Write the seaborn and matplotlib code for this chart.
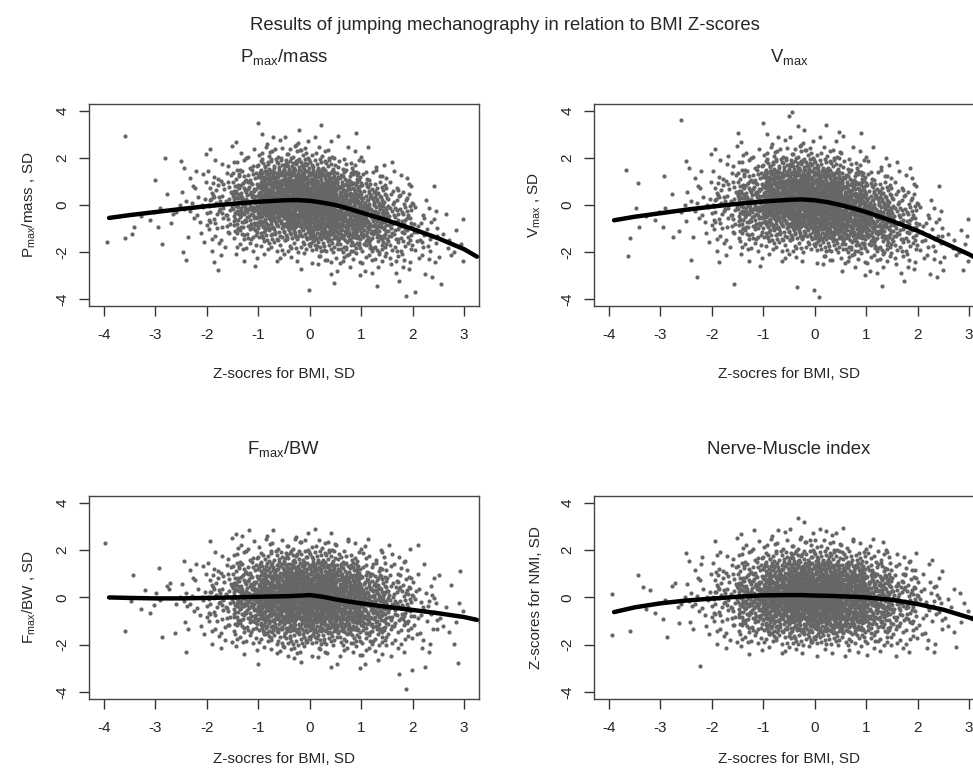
import numpy as np
import pandas as pd
import seaborn as sns
import matplotlib.pyplot as plt

# Grid of the point clouds: left edges of 0.5-wide BMI bins, lower edges of
# 0.5-high score bins (listed top to bottom). Counts are estimated from the picture.
x_edges = [-4.0, -3.5, -3.0, -2.5, -2.0, -1.5, -1.0, -0.5, 0.0, 0.5, 1.0, 1.5, 2.0, 2.5, 3.0]
y_edges = [3.5, 3.0, 2.5, 2.0, 1.5, 1.0, 0.5, 0.0, -0.5, -1.0, -1.5, -2.0, -2.5, -3.0, -3.5, -4.0, -4.5]

# one list per BMI bin, counts per score bin from top to bottom
pmax_counts = [
    [0, 0, 1, 0, 0, 0, 0, 0, 0, 0, 1, 1, 0, 0, 0, 0, 0],
    [0, 0, 0, 0, 0, 1, 0, 0, 2, 2, 1, 0, 0, 0, 0, 0, 0],
    [0, 0, 0, 1, 1, 0, 0, 2, 3, 2, 0, 1, 0, 0, 0, 0, 0],
    [0, 0, 0, 1, 1, 3, 4, 5, 4, 3, 2, 2, 1, 0, 0, 0, 0],
    [0, 0, 1, 1, 3, 6, 10, 13, 13, 10, 6, 3, 2, 1, 0, 0, 0],
    [0, 1, 1, 3, 8, 16, 25, 32, 32, 25, 16, 7, 3, 1, 0, 0, 0],
    [0, 1, 3, 9, 21, 39, 56, 63, 56, 39, 21, 9, 3, 0, 0, 0, 0],
    [0, 1, 4, 12, 28, 52, 75, 85, 75, 52, 28, 12, 4, 1, 0, 1, 0],
    [0, 1, 2, 7, 19, 39, 63, 80, 80, 63, 39, 19, 7, 2, 1, 0, 0],
    [0, 1, 1, 3, 9, 21, 39, 56, 63, 56, 39, 21, 9, 3, 0, 0, 0],
    [0, 0, 0, 1, 3, 9, 18, 30, 38, 38, 30, 18, 9, 3, 1, 0, 0],
    [0, 0, 0, 0, 1, 3, 7, 12, 17, 20, 17, 12, 7, 3, 1, 1, 0],
    [0, 0, 0, 0, 0, 0, 1, 2, 4, 7, 8, 7, 4, 1, 1, 1, 0],
    [0, 0, 0, 0, 0, 0, 0, 0, 1, 1, 3, 3, 3, 0, 1, 0, 0],
    [0, 0, 0, 0, 0, 0, 0, 0, 0, 0, 0, 0, 0, 0, 0, 0, 0],
]
vmax_counts = [
    [0, 0, 0, 0, 1, 0, 0, 0, 0, 0, 1, 0, 1, 0, 0, 0, 0],
    [0, 0, 0, 0, 0, 0, 1, 0, 3, 2, 0, 0, 0, 0, 0, 0, 0],
    [1, 0, 0, 0, 1, 1, 0, 2, 2, 1, 2, 0, 0, 0, 0, 0, 0],
    [0, 0, 0, 1, 1, 2, 4, 5, 4, 4, 2, 1, 1, 0, 1, 0, 0],
    [0, 0, 1, 2, 3, 6, 10, 13, 12, 10, 6, 3, 2, 0, 1, 0, 0],
    [0, 2, 1, 4, 8, 16, 25, 32, 31, 24, 15, 8, 3, 1, 0, 0, 0],
    [1, 1, 3, 9, 21, 39, 56, 63, 56, 38, 21, 9, 3, 0, 0, 0, 0],
    [1, 2, 4, 12, 28, 52, 75, 85, 75, 51, 28, 12, 3, 0, 1, 1, 0],
    [0, 2, 2, 8, 20, 40, 64, 80, 79, 62, 38, 18, 6, 1, 0, 1, 0],
    [0, 1, 1, 4, 9, 21, 39, 56, 63, 55, 38, 21, 9, 3, 0, 0, 0],
    [0, 0, 0, 2, 3, 9, 18, 30, 38, 38, 30, 18, 9, 3, 1, 0, 0],
    [0, 0, 0, 0, 2, 3, 7, 12, 17, 20, 17, 12, 6, 3, 1, 0, 0],
    [0, 0, 0, 0, 0, 0, 1, 2, 4, 7, 8, 6, 4, 2, 1, 0, 0],
    [0, 0, 0, 0, 0, 0, 0, 0, 0, 1, 4, 3, 3, 1, 0, 0, 0],
    [0, 0, 0, 0, 0, 0, 0, 0, 0, 0, 1, 0, 1, 0, 0, 0, 0],
]
fmax_counts = [
    [0, 0, 0, 1, 0, 0, 0, 0, 0, 0, 1, 0, 0, 0, 0, 0, 0],
    [0, 0, 0, 0, 0, 0, 1, 1, 3, 1, 0, 0, 0, 0, 0, 0, 0],
    [0, 0, 0, 0, 0, 1, 1, 4, 2, 0, 0, 2, 0, 0, 0, 0, 0],
    [0, 0, 0, 0, 1, 3, 4, 5, 5, 3, 3, 1, 1, 0, 0, 0, 0],
    [0, 0, 1, 1, 3, 6, 10, 13, 13, 10, 7, 4, 1, 0, 0, 0, 0],
    [0, 0, 3, 4, 8, 16, 25, 31, 31, 25, 16, 8, 3, 0, 0, 0, 0],
    [0, 0, 2, 6, 15, 30, 48, 61, 61, 48, 29, 14, 5, 1, 0, 0, 0],
    [0, 0, 2, 8, 20, 40, 65, 82, 82, 64, 39, 19, 7, 2, 0, 0, 0],
    [0, 0, 2, 8, 19, 39, 64, 81, 80, 62, 38, 19, 6, 2, 0, 0, 0],
    [0, 0, 0, 5, 11, 24, 44, 60, 63, 52, 35, 17, 6, 2, 0, 0, 0],
    [0, 0, 0, 3, 6, 12, 22, 34, 39, 36, 25, 14, 6, 2, 0, 0, 0],
    [0, 0, 0, 2, 3, 6, 11, 17, 19, 17, 12, 7, 3, 0, 2, 1, 0],
    [0, 0, 0, 1, 0, 1, 3, 5, 7, 7, 5, 3, 2, 1, 0, 0, 0],
    [0, 0, 0, 0, 0, 1, 2, 0, 2, 2, 3, 1, 0, 1, 0, 0, 0],
    [0, 0, 0, 0, 0, 0, 0, 0, 0, 0, 1, 0, 0, 0, 0, 0, 0],
]
nmi_counts = [
    [0, 0, 0, 0, 0, 0, 0, 1, 0, 0, 1, 1, 0, 0, 0, 0, 0],
    [0, 0, 0, 0, 0, 0, 1, 2, 1, 1, 0, 0, 0, 0, 0, 0, 0],
    [0, 0, 0, 0, 1, 0, 1, 2, 3, 1, 1, 1, 0, 0, 0, 0, 0],
    [0, 0, 0, 0, 2, 2, 4, 5, 5, 3, 3, 1, 0, 1, 0, 0, 0],
    [0, 0, 1, 1, 4, 7, 10, 13, 13, 10, 6, 4, 1, 0, 0, 0, 0],
    [0, 0, 2, 4, 8, 16, 25, 32, 32, 25, 15, 8, 3, 0, 0, 0, 0],
    [0, 0, 3, 7, 16, 31, 49, 62, 61, 47, 28, 13, 3, 0, 0, 0, 0],
    [0, 2, 3, 9, 21, 41, 66, 83, 82, 63, 38, 18, 4, 0, 0, 0, 0],
    [0, 0, 4, 9, 21, 41, 64, 81, 80, 62, 37, 17, 4, 0, 0, 0, 0],
    [0, 0, 1, 6, 15, 30, 48, 61, 62, 49, 30, 14, 4, 0, 0, 0, 0],
    [0, 0, 0, 4, 8, 17, 29, 37, 38, 31, 20, 11, 4, 0, 0, 0, 0],
    [0, 0, 0, 0, 4, 7, 13, 18, 19, 16, 11, 7, 3, 0, 0, 0, 0],
    [0, 0, 0, 0, 1, 2, 4, 6, 7, 6, 4, 3, 2, 0, 0, 0, 0],
    [0, 0, 0, 0, 0, 0, 0, 2, 3, 2, 3, 0, 1, 0, 0, 0, 0],
    [0, 0, 0, 0, 0, 0, 0, 1, 0, 1, 0, 0, 0, 0, 0, 0, 0],
]

# smoothed (loess) curves
curve_x = [-3.9, -3.5, -3.0, -2.5, -2.0, -1.5, -1.0, -0.5, -0.25, 0.0, 0.25, 0.5, 0.75, 1.0, 1.5, 2.0, 2.5, 3.0, 3.25]
pmax_curve = [-0.55, -0.43, -0.3, -0.17, -0.05, 0.05, 0.14, 0.2, 0.21, 0.18, 0.1, 0.0, -0.15, -0.32, -0.65, -1.02, -1.42, -1.88, -2.2]
vmax_curve = [-0.65, -0.5, -0.35, -0.2, -0.07, 0.05, 0.15, 0.22, 0.24, 0.2, 0.12, 0.0, -0.14, -0.3, -0.68, -1.1, -1.6, -2.1, -2.4]
fmax_curve = [0.0, -0.02, -0.04, -0.04, -0.02, 0.0, 0.03, 0.05, 0.07, 0.1, 0.03, -0.08, -0.17, -0.25, -0.4, -0.53, -0.67, -0.83, -0.95]
nmi_curve = [-0.62, -0.42, -0.25, -0.13, -0.05, 0.03, 0.09, 0.1, 0.1, 0.08, 0.07, 0.05, 0.03, 0.0, -0.1, -0.28, -0.52, -0.85, -1.05]

titles = [r'$\mathregular{P_{max}/mass}$', r'$\mathregular{V_{max}}$',
          r'$\mathregular{F_{max}/BW}$', 'Nerve-Muscle index']
ylabels = [r'$\mathregular{P_{max}/mass}$ , SD', r'$\mathregular{V_{max}}$ , SD',
           r'$\mathregular{F_{max}/BW}$ , SD', 'Z-scores for NMI, SD']
xlabel = 'Z-socres for BMI, SD'


def halton(i, base):
    f, r = 1.0, 0.0
    while i > 0:
        f /= base
        r += f * (i % base)
        i //= base
    return r


def spread(counts):
    # place the points of every cell across that cell (Halton sequence)
    xs, ys = [], []
    for i, col in enumerate(counts):
        for j, n in enumerate(col):
            start = 1 + 37 * i + 101 * j
            for k in range(n):
                u = halton(start + k, 2)
                v = halton(start + k, 3)
                xs.append(x_edges[i] + 0.5 * u)
                ys.append(y_edges[j] + 0.5 * v)
    return pd.DataFrame({'bmi': xs, 'score': ys})


sns.set_style('white')
plt.rcParams['font.family'] = ['Liberation Sans', 'DejaVu Sans']
plt.rcParams['mathtext.fontset'] = 'custom'
plt.rcParams['mathtext.rm'] = 'Liberation Sans'
plt.rcParams['axes.unicode_minus'] = False

fig = plt.figure(figsize=(9.73, 7.72), dpi=100)
boxes = [[0.0915, 0.6036, 0.4008, 0.2617], [0.6105, 0.6036, 0.4008, 0.2617],
         [0.0915, 0.0946, 0.4008, 0.2630], [0.6105, 0.0946, 0.4008, 0.2630]]
clouds = [pmax_counts, vmax_counts, fmax_counts, nmi_counts]
curves = [pmax_curve, vmax_curve, fmax_curve, nmi_curve]
xpads = [18, 18, 12, 12]

for box, counts, curve, title, ylab, xpad in zip(boxes, clouds, curves, titles, ylabels, xpads):
    ax = fig.add_axes(box)
    df = spread(counts)
    sns.scatterplot(data=df, x='bmi', y='score', ax=ax, color='#666666', s=9,
                    linewidth=0, marker='o')
    sns.lineplot(x=curve_x, y=curve, ax=ax, color='black', lw=3.2, sort=False,
                 estimator=None)
    ax.set_xlim(-4.29, 3.29)
    ax.set_ylim(-4.3, 4.3)
    ax.set_xticks(range(-4, 4))
    ax.set_yticks([-4, -2, 0, 2, 4])
    ax.tick_params(direction='out', length=7, width=1, color='#333333',
                   labelsize=11, left=True, bottom=True)
    ax.tick_params(axis='x', pad=9)
    ax.tick_params(axis='y', pad=7, labelrotation=90)
    for lab in ax.get_yticklabels():
        lab.set_va('center')
    for sp in ax.spines.values():
        sp.set_color('#444444')
        sp.set_linewidth(1)
    ax.set_xlabel(xlabel, fontsize=11, labelpad=xpad)
    ax.set_ylabel(ylab, fontsize=11, labelpad=13)
    ax.set_title(title, fontsize=13.3, pad=30)

fig.text(0.519, 0.967, 'Results of jumping mechanography in relation to BMI Z-scores',
         ha='center', va='center', fontsize=13.3)

fig.savefig('out.png', dpi=100)
